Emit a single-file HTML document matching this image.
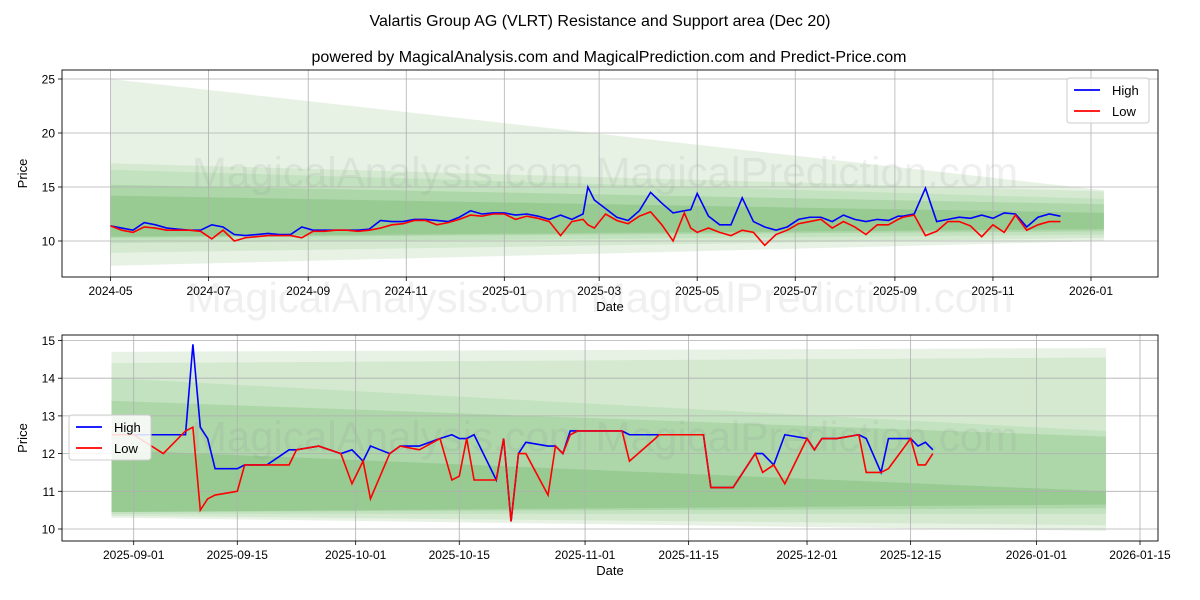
<!DOCTYPE html>
<html><head><meta charset="utf-8"><style>
body{margin:0;background:#fff;}
svg{display:block;font-family:"Liberation Sans","DejaVu Sans",sans-serif;}
</style></head><body>
<svg id="chart" width="1200" height="600" viewBox="0 0 1200 600" xmlns="http://www.w3.org/2000/svg">
<text x="600" y="26" text-anchor="middle" font-size="16">Valartis Group AG (VLRT) Resistance and Support area (Dec 20)</text>
<text x="609" y="62" text-anchor="middle" font-size="16">powered by MagicalAnalysis.com and MagicalPrediction.com and Predict-Price.com</text>
<g id="top"></g>
<g id="bot"></g>
</svg>
<script>
// ---- Top chart data (days since 2024-05-01) ----
const topDays = [0,7,14,21,28,35,42,49,56,63,70,77,84,91,98,105,112,119,126,133,140,147,154,161,168,175,182,189,196,203,210,217,224,231,238,245,252,259,266,273,280,287,294,297,301,308,315,322,329,336,343,350,357,361,365,372,379,386,393,400,407,414,421,428,435,442,449,456,463,470,477,484,490,493,500,507,514,521,528,535,542,549,556,563,570,577,584,591];
const topHigh = [11.4,11.2,11.0,11.7,11.5,11.2,11.1,11.0,11.0,11.5,11.3,10.6,10.5,10.6,10.7,10.6,10.6,11.3,11.0,11.0,11.0,11.0,11.0,11.1,11.9,11.8,11.8,12.0,12.0,11.9,11.8,12.2,12.8,12.5,12.6,12.6,12.4,12.5,12.3,12.0,12.4,12.0,12.5,15.0,13.8,13.0,12.2,11.9,12.8,14.5,13.5,12.6,12.8,12.9,14.4,12.3,11.5,11.5,14.0,11.8,11.3,11.0,11.3,12.0,12.2,12.2,11.8,12.4,12.0,11.8,12.0,11.9,12.3,12.3,12.5,14.9,11.8,12.0,12.2,12.1,12.4,12.1,12.6,12.5,11.3,12.2,12.5,12.3];
const topLow  = [11.4,11.0,10.8,11.3,11.2,11.0,11.0,11.0,10.9,10.2,11.0,10.0,10.3,10.4,10.5,10.5,10.5,10.3,10.9,10.9,11.0,11.0,10.9,11.0,11.2,11.5,11.6,11.9,11.9,11.5,11.7,12.0,12.4,12.3,12.5,12.5,12.0,12.3,12.1,11.8,10.5,11.8,12.0,11.5,11.2,12.5,11.9,11.6,12.3,12.7,11.5,10.0,12.6,11.2,10.8,11.2,10.8,10.5,11.0,10.8,9.6,10.6,11.0,11.6,11.8,12.0,11.2,11.8,11.3,10.6,11.5,11.5,12.0,12.2,12.4,10.5,10.9,11.8,11.8,11.4,10.4,11.5,10.8,12.4,11.0,11.5,11.8,11.8];
const topTicks = ["2024-05","2024-07","2024-09","2024-11","2025-01","2025-03","2025-05","2025-07","2025-09","2025-11","2026-01"];
const topTickDays = [0,61,123,184,245,304,365,426,488,549,610];
const topYTicks = [10,15,20,25];
const topBandUpperStart = [25.0,17.2,16.6,15.2,14.2];
const topBandUpperEnd   = [14.7,14.6,13.9,13.4,12.6];
const topBandLowerStart = [7.7,8.9,9.8,10.3,10.4];
const topBandLowerEnd   = [10.0,10.3,10.6,10.9,11.1];

// ---- Bottom chart data (days since 2025-09-01) ----
const botDays = [-3,0,4,7,8,9,10,11,14,15,18,21,22,25,28,29.5,31,32,34.6,36,38.6,41.4,43,44,45,46,49,50,51,52,53,56,57,58,59,60,66,67,70.5,71,77,78,81,84,85,86.5,88,91,92,93,95,98,99,101,102,105,106,107,108];
const botHigh = [12.5,12.5,12.5,12.5,14.9,12.7,12.4,11.6,11.6,11.7,11.7,12.1,12.1,12.2,12.0,12.1,11.8,12.2,12.0,12.2,12.2,12.4,12.5,12.4,12.4,12.5,11.3,12.4,10.2,12.0,12.3,12.2,12.2,12.0,12.6,12.6,12.6,12.5,12.5,12.5,12.5,11.1,11.1,12.0,12.0,11.7,12.5,12.4,12.1,12.4,12.4,12.5,12.4,11.5,12.4,12.4,12.2,12.3,12.1];
const botLow  = [12.5,12.5,12.0,12.6,12.7,10.5,10.8,10.9,11.0,11.7,11.7,11.7,12.1,12.2,12.0,11.2,11.8,10.8,12.0,12.2,12.1,12.4,11.3,11.4,12.4,11.3,11.3,12.4,10.2,12.0,12.0,10.9,12.2,12.0,12.5,12.6,12.6,11.8,12.4,12.5,12.5,11.1,11.1,12.0,11.5,11.7,11.2,12.4,12.1,12.4,12.4,12.5,11.5,11.5,11.6,12.4,11.7,11.7,12.0];
const botTicks = ["2025-09-01","2025-09-15","2025-10-01","2025-10-15","2025-11-01","2025-11-15","2025-12-01","2025-12-15","2026-01-01","2026-01-15"];
const botTickDays = [0,14,30,44,61,75,91,105,122,136];
const botYTicks = [10,11,12,13,14,15];
const botBandUpperStart = [14.7,14.4,14.0,13.4,12.1];
const botBandUpperEnd   = [14.8,14.55,12.6,12.45,11.0];
const botBandLowerStart = [10.3,10.35,10.4,10.45,10.45];
const botBandLowerEnd   = [9.95,10.1,10.4,10.55,10.65];

const NS="http://www.w3.org/2000/svg";
function mk(parent,tag,attrs){const e=document.createElementNS(NS,tag);for(const k in attrs)e.setAttribute(k,attrs[k]);parent.appendChild(e);return e;}

function panel(g,cfg){
  const {L,R,T,B,x,y}=cfg;
  const fills=["#e3f0e1","#d0e7cd","#c0e0bc","#a9d4a4","#93c98e"];
  for(let i=0;i<cfg.us.length;i++){
    const p=mk(g,'polygon',{points:`${x(cfg.b0)},${y(cfg.us[i])} ${x(cfg.b1)},${y(cfg.ue[i])} ${x(cfg.b1)},${y(cfg.le[i])} ${x(cfg.b0)},${y(cfg.ls[i])}`,fill:fills[i],'fill-opacity':'0.85'});
    
    
  }
  cfg.xt.forEach((d,i)=>{
    const l=mk(g,'line',{x1:x(d),x2:x(d),y1:T,y2:B,stroke:'#b0b0b0','stroke-width':0.8});
    
    
    mk(g,'line',{x1:x(d),x2:x(d),y1:B,y2:B+4,stroke:'#000','stroke-width':0.8});
    const t=mk(g,'text',{x:x(d),y:B+18,'text-anchor':'middle','font-size':12});
    t.textContent=cfg.xl[i];
    
    
  });
  cfg.yt.forEach(v=>{
    const l=mk(g,'line',{x1:L,x2:R,y1:y(v),y2:y(v),stroke:'#b0b0b0','stroke-width':0.8});
    
    
    mk(g,'line',{x1:L-4,x2:L,y1:y(v),y2:y(v),stroke:'#000','stroke-width':0.8});
    const t=mk(g,'text',{x:L-7,y:y(v)+4.5,'text-anchor':'end','font-size':12});
    t.textContent=v;
    
    
  });
  const w=mk(g,'text',{x:(L+R)/2-5,y:(T+B)/2+13,'text-anchor':'middle','font-size':42,fill:'#888','fill-opacity':'0.13'});
  w.textContent='MagicalAnalysis.com     MagicalPrediction.com';
  
  
  const hp=cfg.pts.map(p=>x(p[0])+','+y(p[1])).join(' ');
  const lp=cfg.pts.map(p=>x(p[0])+','+y(p[2])).join(' ');
  const h=mk(g,'polyline',{points:hp,fill:'none',stroke:'#0000ff','stroke-width':1.6});
  
  
  const lo=mk(g,'polyline',{points:lp,fill:'none',stroke:'#ff0000','stroke-width':1.6});
  
  
  const f=mk(g,'rect',{x:L,y:T,width:R-L,height:B-T,fill:'none',stroke:'#000','stroke-width':0.9});
  
  
  const xt=mk(g,'text',{x:(L+R)/2,y:B+34,'text-anchor':'middle','font-size':13});
  xt.textContent='Date';
  
  
  const yt=mk(g,'text',{x:0,y:0,'text-anchor':'middle','font-size':13,transform:`translate(${cfg.yx},${(T+B)/2}) rotate(-90)`});
  yt.textContent='Price';
  
  
  const lg=mk(g,'g',{});
  
  
  mk(lg,'rect',{x:cfg.lx,y:cfg.ly,width:82,height:45,rx:3,fill:'#fff','fill-opacity':0.85,stroke:'#ccc'});
  [['High','#0000ff'],['Low','#ff0000']].forEach((s,i)=>{
    const e=mk(lg,'g',{});
    
    
    mk(e,'line',{x1:cfg.lx+7,x2:cfg.lx+33,y1:cfg.ly+12+i*21,y2:cfg.ly+12+i*21,stroke:s[1],'stroke-width':1.8});
    const t=mk(e,'text',{x:cfg.lx+45,y:cfg.ly+17+i*21,'font-size':13});
    t.textContent=s[0];
  });
}

panel(document.getElementById('top'),{L:62,R:1158,T:70,B:277,
  x:d=>110.5+d*(1091-110.5)/610, y:v=>241-(v-10)*10.8,
  b0:0,b1:618,us:topBandUpperStart,ue:topBandUpperEnd,ls:topBandLowerStart,le:topBandLowerEnd,
  xt:topTickDays,xl:topTicks,yt:topYTicks,
  pts:topDays.map((d,i)=>[d,topHigh[i],topLow[i]]),yx:27,lx:1067,ly:78});
panel(document.getElementById('bot'),{L:62,R:1158,T:335,B:541,
  x:d=>133.7+d*(1140-133.7)/136, y:v=>529-(v-10)*37.7,
  b0:-3,b1:131.4,us:botBandUpperStart,ue:botBandUpperEnd,ls:botBandLowerStart,le:botBandLowerEnd,
  xt:botTickDays,xl:botTicks,yt:botYTicks,
  pts:botDays.map((d,i)=>[d,botHigh[i],botLow[i]]),yx:27,lx:69,ly:415});
const mw=mk(document.getElementById('chart'),'text',{x:600,y:312,'text-anchor':'middle','font-size':42,fill:'#888','fill-opacity':'0.13'});
mw.textContent='MagicalAnalysis.com     MagicalPrediction.com';


</script>
</body></html>
